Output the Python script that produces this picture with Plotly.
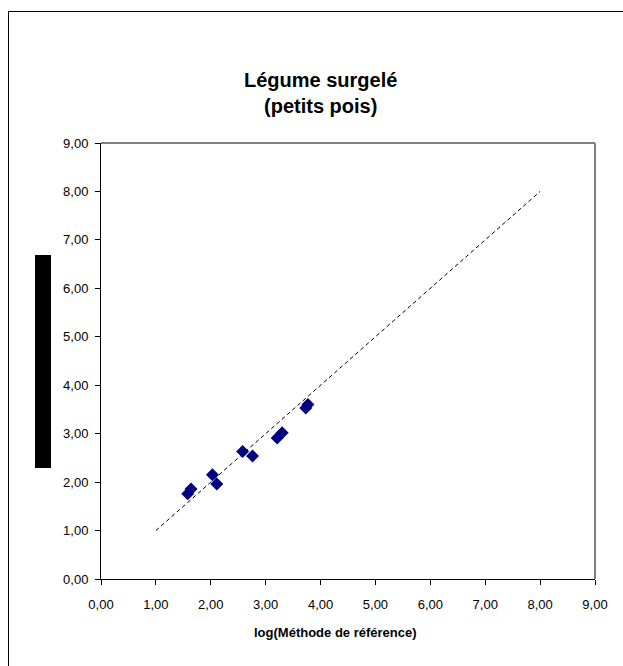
import plotly.graph_objects as go

# Measured log counts: reference method (x) vs. alternative method (y)
log_reference = [1.58, 1.64, 2.03, 2.11, 2.58, 2.76, 3.21, 3.30, 3.73, 3.77]
log_alternative = [1.76, 1.86, 2.15, 1.96, 2.63, 2.54, 2.91, 3.02, 3.53, 3.60]

# y = x identity line
identity_x = [1.0, 8.0]
identity_y = [1.0, 8.0]

tick_values = [0, 1, 2, 3, 4, 5, 6, 7, 8, 9]

W, H = 623, 666
L, R, T, B = 101, 28, 143, 87
FONT = "Liberation Sans, Arial"

fig = go.Figure()
fig.add_trace(go.Scatter(
    x=identity_x, y=identity_y, mode="lines",
    line=dict(color="black", width=1, dash="4px,3px"),
    hoverinfo="skip", showlegend=False,
))
fig.add_trace(go.Scatter(
    x=log_reference, y=log_alternative, mode="markers",
    marker=dict(symbol="diamond", size=10, color="#000080",
                line=dict(width=0)),
    showlegend=False,
))

axis_common = dict(
    range=[0, 9], tickvals=tick_values, tickformat=".2f",
    showgrid=False, zeroline=False, showline=True, linecolor="black",
    linewidth=1, ticks="outside", ticklen=5, tickcolor="black",
    tickfont=dict(family=FONT, size=13, color="black"),
    fixedrange=True, mirror=False,
)
fig.update_xaxes(**axis_common, ticklabelstandoff=8)
fig.update_yaxes(**axis_common, ticklabelstandoff=4)

def px_x(v):
    return (v - L) / (W - L - R)

def px_y(v):
    return (H - B - v) / (H - T - B)

shapes = [
    # plot area border (grey on top/right)
    dict(type="line", xref="paper", yref="paper", x0=0, x1=1, y0=1, y1=1,
         line=dict(color="#808080", width=2)),
    dict(type="line", xref="paper", yref="paper", x0=1, x1=1, y0=0, y1=1,
         line=dict(color="#808080", width=2)),
    # outer chart frame
    dict(type="rect", xref="paper", yref="paper",
         x0=px_x(8.5), x1=px_x(660), y0=px_y(720), y1=px_y(11.5),
         line=dict(color="black", width=1), layer="below"),
    # filled block beside the value axis
    dict(type="rect", xref="paper", yref="paper",
         x0=px_x(35), x1=px_x(51), y0=px_y(468), y1=px_y(255),
         fillcolor="black", line=dict(width=0)),
]

annotations = [
    dict(text="<b>Légume surgelé</b><br><b>(petits pois)</b>",
         xref="paper", yref="paper", x=px_x(320), y=px_y(93),
         xanchor="center", yanchor="middle", showarrow=False,
         font=dict(family=FONT, size=20, color="black")),
    dict(text="<b>log(Méthode de référence)</b>",
         xref="paper", yref="paper", x=px_x(335), y=px_y(632),
         xanchor="center", yanchor="middle", showarrow=False,
         font=dict(family=FONT, size=13, color="black")),
]

fig.update_layout(
    width=W, height=H,
    margin=dict(l=L, r=R, t=T, b=B),
    paper_bgcolor="white", plot_bgcolor="white",
    separators=", ",
    shapes=shapes, annotations=annotations,
    showlegend=False,
)

fig.write_html("out.html")
